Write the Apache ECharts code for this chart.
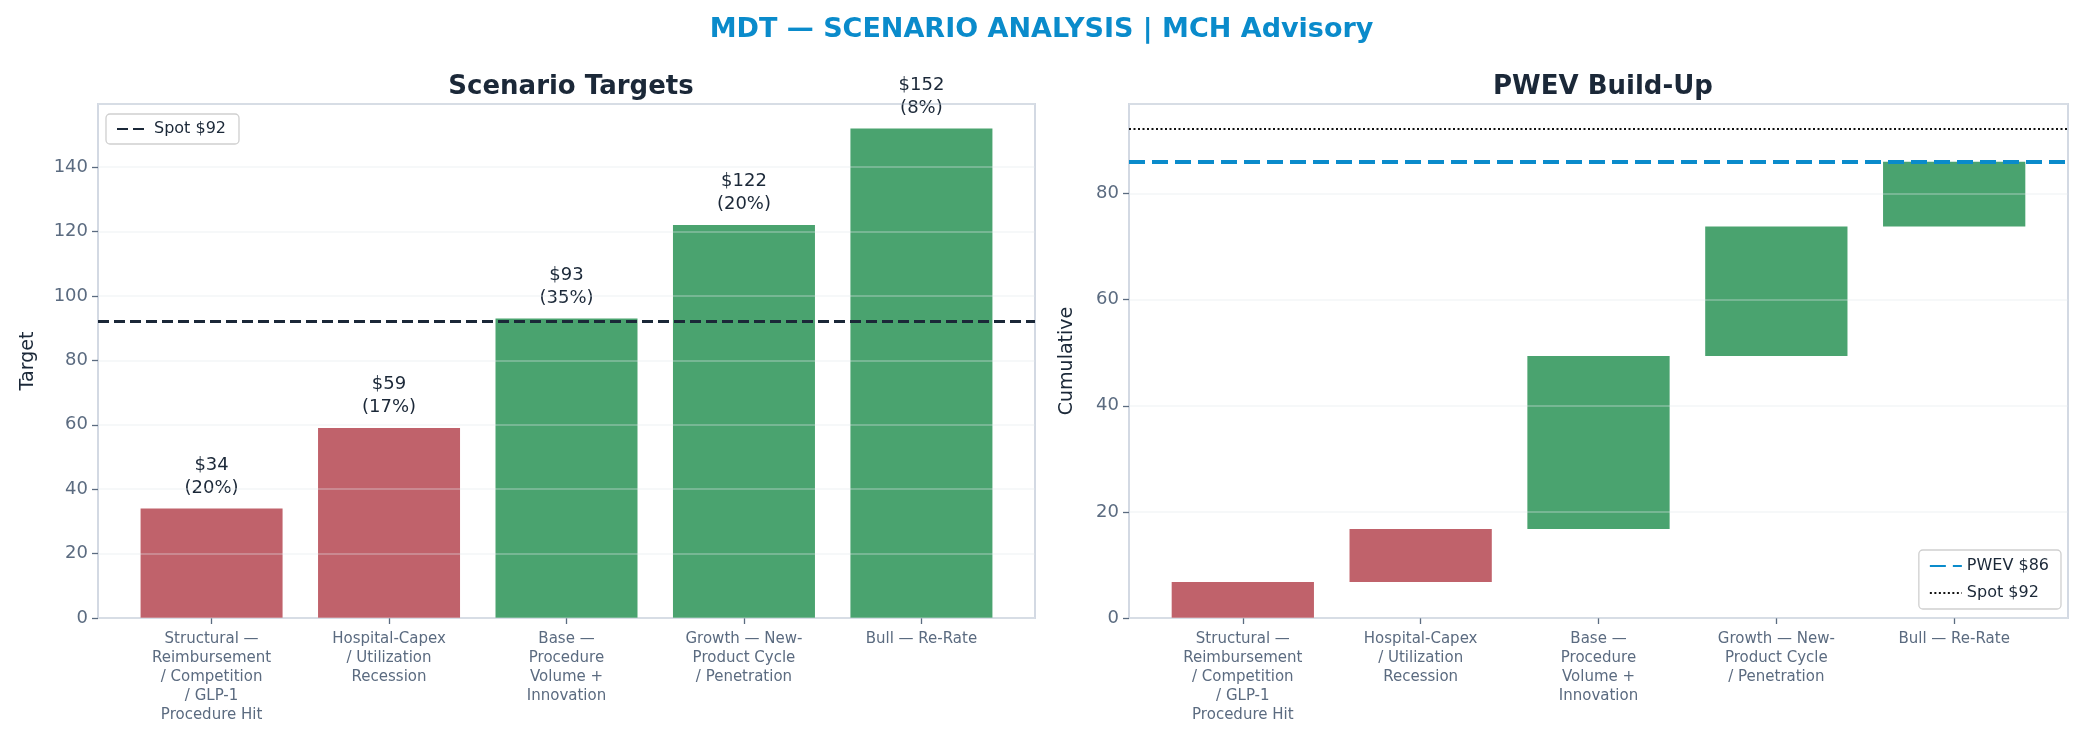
<!DOCTYPE html>
<html><head><meta charset="utf-8">
<script src="https://cdn.jsdelivr.net/npm/echarts@6/dist/echarts.min.js"></script>
<style>html,body{margin:0;padding:0;background:#fff}#c{width:2083px;height:742px}</style>
</head><body><div id="c"></div>
<script>
const categories = [
  'Structural —\nReimbursement\n/ Competition\n/ GLP-1\nProcedure Hit',
  'Hospital-Capex\n/ Utilization\nRecession',
  'Base —\nProcedure\nVolume +\nInnovation',
  'Growth — New-\nProduct Cycle\n/ Penetration',
  'Bull — Re-Rate'
];
const targets = [34, 59, 93, 122, 152];
const probabilities = [20, 17, 35, 20, 8];
const scenarioKind = ['down', 'down', 'up', 'up', 'up'];
const waterfallBase = [0, 6.8, 16.8, 49.4, 73.8];
const waterfallStep = [6.8, 10.0, 32.6, 24.4, 12.2];
const spotPrice = 92.2;
const pwev = 86.0;

const RED = '#c0626b', GREEN = '#4aa36f', BLUE = '#0a8bcb';
const DARK = '#1b2838', GRAY = '#5b6b80', FRAME = '#d3d9e3';
const FONT = 'DejaVu Sans';
const colorOf = k => k === 'down' ? RED : GREEN;
const idx = [0, 1, 2, 3, 4];

function xAxisFor(gi) {
  return {
    type: 'value', gridIndex: gi, min: -0.64, max: 4.64,
    splitLine: {show: false}, axisLine: {show: false, onZero: false},
    axisTick: {show: true, customValues: idx, length: 6, lineStyle: {color: GRAY, width: 1.3}},
    axisLabel: {customValues: idx, formatter: v => categories[Math.round(v)],
      color: GRAY, fontFamily: FONT, fontSize: 15, lineHeight: 19, margin: 12, verticalAlign: 'top'}
  };
}
function yAxisFor(gi, max, name, gap) {
  return {
    type: 'value', gridIndex: gi, min: 0, max: max, interval: 20, z: 3,
    name: name, nameLocation: 'middle', nameGap: gap,
    nameTextStyle: {color: DARK, fontFamily: FONT, fontSize: 19},
    axisLine: {show: false, onZero: false},
    axisTick: {show: true, length: 6, lineStyle: {color: GRAY, width: 1.3}},
    axisLabel: {color: GRAY, fontFamily: FONT, fontSize: 18, margin: 10, showMaxLabel: false,
      formatter: v => (v % 20 === 0 ? String(v) : '')},
    splitLine: {show: true, lineStyle: {color: 'rgba(225,230,236,0.4)', width: 1.5}}
  };
}
function refLine(name, xi, color, width, dash, value) {
  return {
    type: 'line', name: name, xAxisIndex: xi, yAxisIndex: xi, data: [], symbol: 'none',
    itemStyle: {color: color, opacity: 0},
    lineStyle: {color: color, width: width, type: dash},
    markLine: {silent: true, symbol: 'none', label: {show: false},
      lineStyle: {color: color, width: width, type: dash}, data: [{yAxis: value}]}
  };
}

const option = {
  animation: false,
  backgroundColor: '#fff',
  title: [
    {text: 'MDT — SCENARIO ANALYSIS | MCH Advisory', left: 'center', top: 11,
      textStyle: {color: BLUE, fontFamily: FONT, fontSize: 27, fontWeight: 'bold'}},
    {text: 'Scenario Targets', left: 566, textAlign: 'center', top: 69,
      textStyle: {color: DARK, fontFamily: FONT, fontSize: 26, fontWeight: 'bold'}},
    {text: 'PWEV Build-Up', left: 1598, textAlign: 'center', top: 69,
      textStyle: {color: DARK, fontFamily: FONT, fontSize: 26, fontWeight: 'bold'}}
  ],
  legend: [
    {data: ['Spot $92'], left: 106, top: 114, orient: 'vertical',
      padding: [7, 13, 7, 10], borderColor: '#cfcfcf', borderWidth: 1.3, borderRadius: 4, backgroundColor: '#fff',
      itemWidth: 32, itemHeight: 12, itemGap: 9,
      textStyle: {color: DARK, fontFamily: FONT, fontSize: 16}},
    {data: ['PWEV $86', 'Spot $92 '], right: 22, top: 550, orient: 'vertical', itemGap: 11,
      padding: [8, 12, 8, 10], borderColor: '#cfcfcf', borderWidth: 1.3, borderRadius: 4, backgroundColor: '#fff',
      itemWidth: 32, itemHeight: 12,
      textStyle: {color: DARK, fontFamily: FONT, fontSize: 16}}
  ],
  grid: [
    {left: 98, top: 104, width: 937, height: 514, show: true, borderColor: FRAME, borderWidth: 2, backgroundColor: '#fff'},
    {left: 1129, top: 104, width: 939, height: 514, show: true, borderColor: FRAME, borderWidth: 2, backgroundColor: '#fff'}
  ],
  xAxis: [xAxisFor(0), xAxisFor(1)],
  yAxis: [yAxisFor(0, 159.6, 'Target', 60), yAxisFor(1, 96.9, 'Cumulative', 52)],
  series: [
    {
      type: 'bar', name: 'Targets', xAxisIndex: 0, yAxisIndex: 0, barWidth: 142,
      data: targets.map((t, i) => ({value: [i, t], itemStyle: {color: colorOf(scenarioKind[i])}})),
      label: {show: true, position: 'top', distance: 9, color: DARK, fontFamily: FONT, fontSize: 18, lineHeight: 23,
        formatter: p => '$' + targets[p.dataIndex] + '\n(' + probabilities[p.dataIndex] + '%)'}
    },
    refLine('Spot $92', 0, DARK, 3, [11, 5], spotPrice),
    {
      type: 'custom', name: 'Build-Up', xAxisIndex: 1, yAxisIndex: 1,
      data: waterfallBase.map((b, i) => [i, b, b + waterfallStep[i]]),
      encode: {x: 0, y: [1, 2]},
      renderItem: (params, api) => {
        const i = api.value(0);
        const p0 = api.coord([i, api.value(1)]);
        const p1 = api.coord([i, api.value(2)]);
        const w = api.size([0.8, 0])[0];
        return {
          type: 'rect',
          shape: {x: p0[0] - w / 2, y: p1[1], width: w, height: p0[1] - p1[1]},
          style: {fill: colorOf(scenarioKind[params.dataIndex])}
        };
      },
      z: 2
    },
    refLine('PWEV $86', 1, BLUE, 4, [16, 7], pwev),
    refLine('Spot $92 ', 1, '#111', 1.8, [2, 2.5], spotPrice)
  ]
};
echarts.init(document.getElementById('c'), null, {renderer: 'canvas'}).setOption(option);
</script></body></html>
